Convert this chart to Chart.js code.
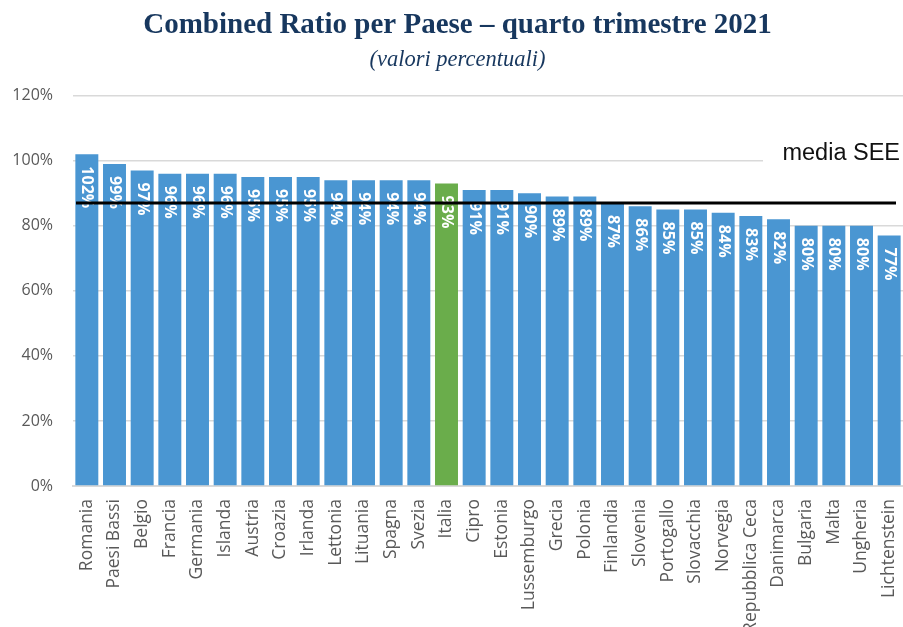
<!DOCTYPE html>
<html>
<head>
<meta charset="utf-8">
<script src="https://cdn.jsdelivr.net/npm/chart.js@4"></script>
<style>
  html, body { margin: 0; padding: 0; background: #fff; }
  #wrap { width: 903px; height: 627px; }
</style>
</head>
<body>
<div id="wrap"><canvas id="ratioChart"></canvas></div>
<script>
const paesi = ["Romania", "Paesi Bassi", "Belgio", "Francia", "Germania", "Islanda", "Austria", "Croazia",
  "Irlanda", "Lettonia", "Lituania", "Spagna", "Svezia", "Italia", "Cipro", "Estonia", "Lussemburgo",
  "Grecia", "Polonia", "Finlandia", "Slovenia", "Portogallo", "Slovacchia", "Norvegia", "Repubblica Ceca",
  "Danimarca", "Bulgaria", "Malta", "Ungheria", "Lichtenstein"];
const combinedRatio = [102, 99, 97, 96, 96, 96, 95, 95, 95, 94, 94, 94, 94, 93, 91, 91, 90,
  89, 89, 87, 86, 85, 85, 84, 83, 82, 80, 80, 80, 77];
const mediaSEE = 87;
const evidenziato = "Italia";

const coloriBarre = paesi.map(p => p == evidenziato ? "#6aad4b" : "#4a96d2");

// etichette bianche ruotate dentro le barre
const etichetteBarre = {
  id: "etichetteBarre",
  afterDatasetsDraw(chart) {
    const c = chart.ctx;
    const meta = chart.getDatasetMeta(0);
    c.save();
    c.fillStyle = "#ffffff";
    c.font = "bold 16px 'Open Sans'";
    c.textAlign = "left";
    c.textBaseline = "middle";
    meta.data.forEach((bar, i) => {
      c.save();
      c.translate(bar.x, bar.y + 12);
      c.rotate(Math.PI / 2);
      c.fillText(combinedRatio[i] + "%", 0, 0);
      c.restore();
    });
    c.restore();
  }
};

// linea media SEE
const lineaMedia = {
  id: "lineaMedia",
  afterDatasetsDraw(chart) {
    const c = chart.ctx;
    const area = chart.chartArea;
    const y = chart.scales.y.getPixelForValue(mediaSEE);
    c.save();
    c.strokeStyle = "#000000";
    c.lineWidth = 3;
    c.beginPath();
    c.moveTo(area.left + 3, y);
    c.lineTo(area.right - 7, y);
    c.stroke();

    const yl = chart.scales.y.getPixelForValue(100);
    c.fillStyle = "#ffffff";
    c.fillRect(area.right - 140, yl - 22, 140, 26);
    c.fillStyle = "#111111";
    c.font = "23.5px 'Liberation Sans'";
    c.textAlign = "right";
    c.textBaseline = "alphabetic";
    c.fillText("media SEE", area.right - 3, yl - 1);
    c.restore();
  }
};

const ctx = document.getElementById("ratioChart");
const chartRatio = new Chart(ctx, {
  type: "bar",
  data: {
    labels: paesi,
    datasets: [{
      label: "Combined Ratio",
      data: combinedRatio,
      backgroundColor: coloriBarre,
      borderWidth: 0,
      barPercentage: 0.83,
      categoryPercentage: 1
    }]
  },
  options: {
    responsive: true,
    maintainAspectRatio: false,
    animation: false,
    layout: { padding: { left: 12, right: 0, top: 0, bottom: 0 } },
    plugins: {
      legend: { display: false },
      tooltip: { enabled: false },
      title: {
        display: true,
        text: "Combined Ratio per Paese – quarto trimestre 2021",
        color: "#17375e",
        font: { family: "'Liberation Serif'", size: 29, weight: "bold" },
        padding: { top: 8, bottom: 3 }
      },
      subtitle: {
        display: true,
        text: "(valori percentuali)",
        color: "#17375e",
        font: { family: "'Liberation Serif'", size: 22.5, style: "italic" },
        padding: { top: 1, bottom: 22 }
      }
    },
    scales: {
      x: {
        grid: { display: false },
        border: { display: true, color: "#d9d9d9", width: 2 },
        ticks: {
          color: "#595959",
          font: { family: "'Open Sans'", size: 17.5 },
          minRotation: 90,
          maxRotation: 90,
          autoSkip: false,
          padding: 5
        },
        afterFit(scale) {
          scale.paddingLeft = 0;
          scale.paddingRight = 0;
          scale.height = 141;
        }
      },
      y: {
        min: 0,
        max: 120,
        border: { display: false },
        grid: { color: "#d9d9d9", lineWidth: 1.5, drawTicks: false },
        ticks: {
          stepSize: 20,
          color: "#595959",
          font: { family: "'Open Sans'", size: 16 },
          padding: 20,
          callback: v => v + "%"
        },
        afterFit(scale) {
          scale.width = 61;
        }
      }
    }
  },
  plugins: [etichetteBarre, lineaMedia]
});
</script>
</body>
</html>
